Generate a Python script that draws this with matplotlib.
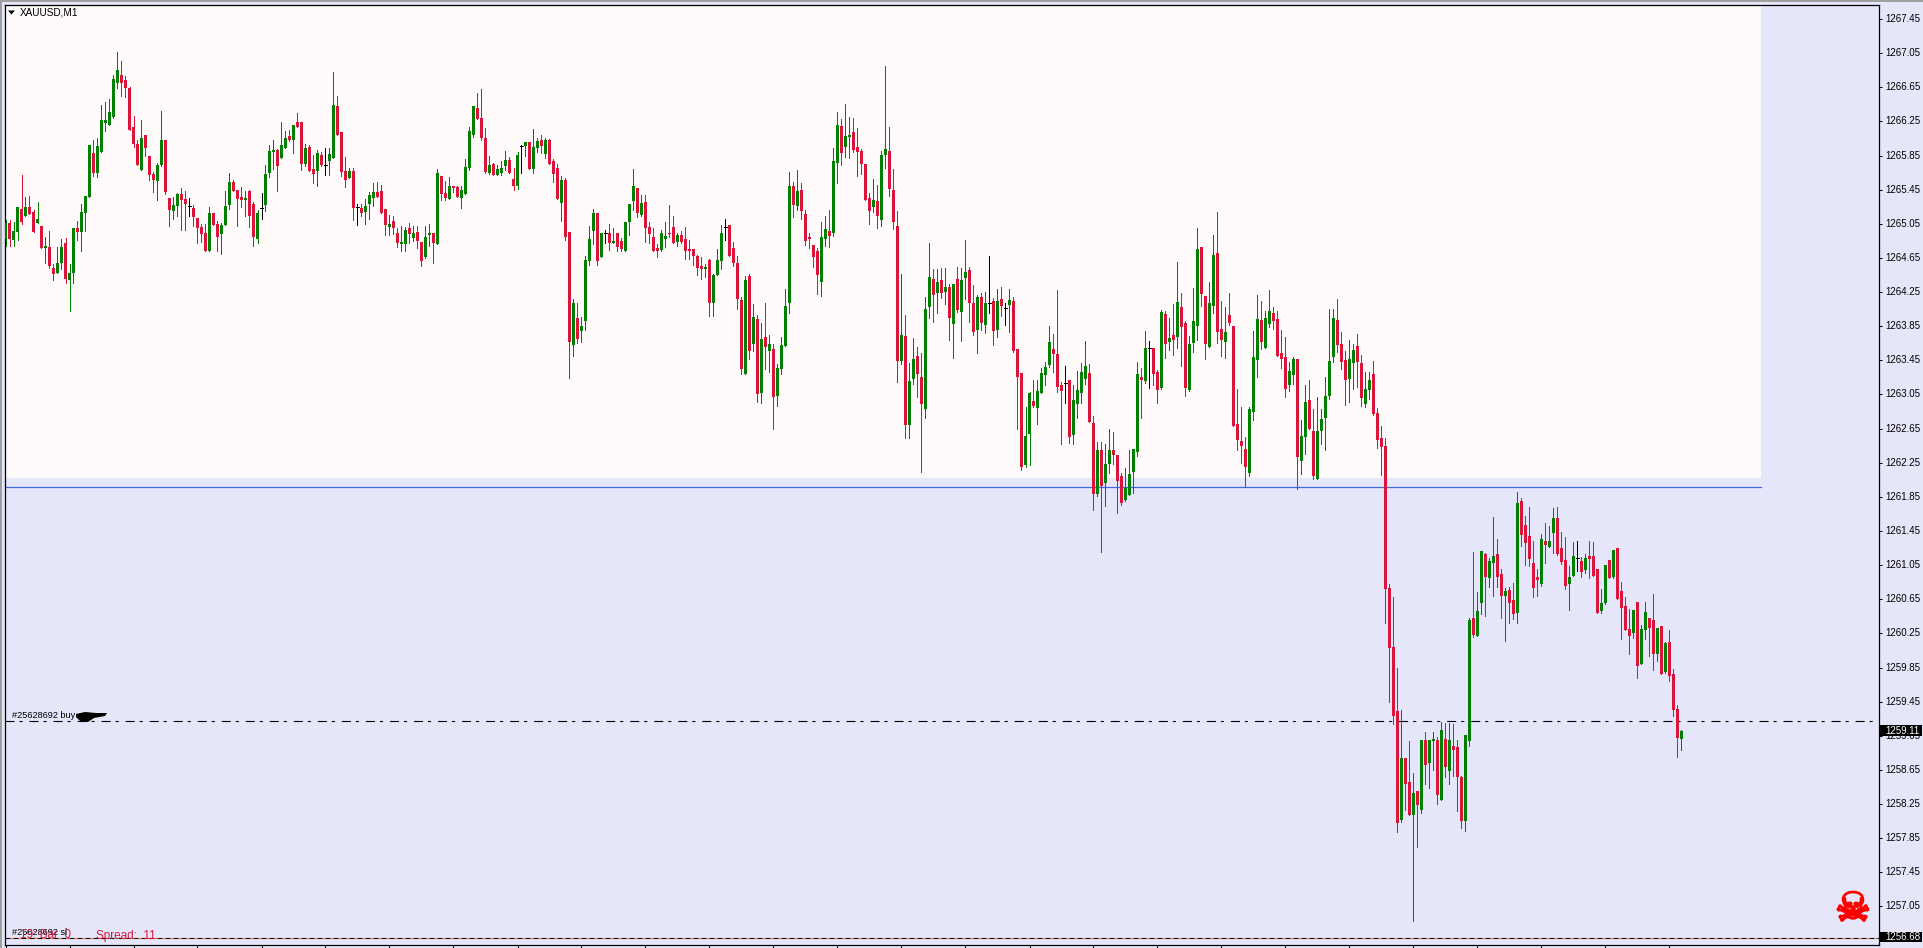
import numpy as np
import matplotlib
matplotlib.use("Agg")
import matplotlib.pyplot as plt
import matplotlib.patheffects as pe
from matplotlib.patches import Polygon, Rectangle
from matplotlib.transforms import ScaledTranslation

plt.rcParams['font.family'] = ['Liberation Sans', 'DejaVu Sans']
plt.rcParams['lines.scale_dashes'] = False

W, H = 1923, 948
PRICE_BASE = 1200.0

# XAUUSD M1 quotes, minus PRICE_BASE
highs = [
    65.09,65.09,65.07,65.25,65.62,65.36,65.38,65.21,65.31,65.02,
    64.90,64.97,64.58,64.78,64.87,64.88,64.58,65.00,65.08,65.28,
    65.38,65.97,66.03,66.06,66.44,66.48,66.51,66.79,67.06,66.96,
    66.78,66.65,66.31,66.03,66.27,66.09,65.84,65.66,65.76,66.37,
    66.03,65.35,65.36,65.41,65.47,65.43,65.35,65.27,65.12,65.05,
    65.05,65.25,65.18,65.08,65.06,65.43,65.65,65.56,65.45,65.48,
    65.43,65.45,65.31,65.21,65.41,65.74,65.97,66.03,65.93,66.24,
    66.14,66.15,66.21,66.35,66.24,65.99,65.97,65.86,65.92,65.89,
    65.94,65.94,66.83,66.55,66.13,65.83,65.70,65.70,65.28,65.28,
    65.34,65.42,65.53,65.54,65.51,65.22,65.15,65.14,65.00,65.02,
    65.01,65.06,65.02,65.02,64.84,65.02,65.05,64.94,65.69,65.61,
    65.55,65.60,65.49,65.49,65.49,65.81,66.18,66.43,66.58,66.63,
    66.17,65.84,65.76,65.74,65.79,65.90,65.83,65.70,65.89,65.97,
    66.01,66.01,66.16,66.06,66.09,66.06,66.04,65.81,65.75,65.61,
    65.59,64.95,64.17,64.12,63.96,64.67,65.02,65.22,65.18,64.94,
    64.98,65.05,65.00,64.94,64.88,65.07,65.28,65.69,65.47,65.39,
    65.39,65.07,65.00,64.81,64.98,65.07,65.27,65.14,64.94,64.97,
    65.01,64.86,64.76,64.68,64.66,64.58,64.64,64.46,64.76,65.04,
    65.11,65.04,64.84,64.67,64.19,64.44,64.46,64.11,63.98,63.89,
    64.12,63.75,63.64,63.41,63.72,64.29,65.66,65.54,65.68,65.53,
    65.21,64.94,64.80,64.77,65.07,65.14,65.21,65.94,66.36,66.28,
    66.45,66.30,66.29,66.17,65.93,65.75,65.41,65.58,65.51,65.90,
    66.90,66.18,65.69,65.20,64.46,63.98,63.42,63.71,63.61,63.53,
    64.19,64.83,64.52,64.52,64.53,64.53,64.34,64.34,64.54,64.53,
    64.86,64.54,64.33,64.22,64.24,64.25,64.67,64.18,64.29,64.31,
    64.12,64.29,64.19,63.58,63.30,62.90,63.08,63.22,63.22,63.36,
    63.43,63.85,63.76,64.27,63.20,63.38,63.22,63.16,63.33,63.42,
    63.68,63.41,62.80,62.49,62.49,62.47,62.65,62.61,62.34,62.13,
    62.19,62.40,62.41,63.43,63.36,63.79,63.68,63.59,63.34,64.04,
    64.03,63.95,64.11,64.60,64.24,63.91,63.74,64.30,65.00,64.78,
    64.20,64.37,64.92,65.19,64.15,64.08,64.24,63.85,63.11,62.90,
    62.55,62.90,63.79,64.22,64.15,64.03,64.27,64.08,64.03,63.81,
    63.72,63.43,63.49,63.47,62.75,63.16,63.22,62.88,63.02,62.88,
    63.25,64.05,64.05,64.17,63.78,63.56,63.69,63.64,63.76,63.51,
    63.31,63.31,63.44,62.89,62.68,62.54,60.83,60.68,59.84,59.35,
    58.79,58.99,58.61,58.40,59.00,59.09,59.00,59.09,59.04,59.21,
    59.20,59.20,59.19,59.00,58.58,59.06,60.43,61.20,60.74,61.22,
    61.19,61.13,61.61,61.36,61.00,60.78,60.79,60.84,61.91,61.84,
    61.63,61.73,61.33,61.00,61.42,61.54,61.51,61.72,61.73,61.44,
    61.38,61.04,61.32,61.33,61.15,61.18,61.33,61.32,61.00,60.77,
    61.05,61.11,61.23,61.25,60.85,60.68,60.54,60.52,60.62,60.35,
    60.62,60.43,60.71,60.31,60.34,60.15,60.29,59.83,59.41,59.12,
]
lows = [
    64.79,64.79,64.79,64.86,65.05,65.14,65.17,64.95,65.06,64.77,
    64.59,64.53,64.39,64.47,64.52,64.36,64.03,64.36,64.86,64.73,
    64.97,65.36,65.61,65.60,65.89,66.14,66.21,66.29,66.64,66.55,
    66.54,66.15,65.95,65.74,65.68,65.84,65.56,65.42,65.33,65.73,
    65.40,65.02,65.11,65.14,64.98,64.98,65.14,65.02,64.83,64.84,
    64.73,64.73,65.04,64.73,64.70,65.04,65.22,65.43,65.02,65.25,
    65.14,65.01,64.79,64.83,65.11,65.20,65.60,65.69,65.43,65.82,
    65.94,66.02,65.88,66.18,65.68,65.73,65.67,65.53,65.49,65.73,
    65.62,65.62,65.82,66.09,65.61,65.48,65.59,65.09,65.04,65.14,
    65.05,65.11,65.26,65.36,65.18,64.92,64.92,64.93,64.78,64.73,
    64.73,64.83,64.85,64.77,64.56,64.65,64.79,64.59,64.81,65.33,
    65.33,65.34,65.42,65.36,65.24,65.40,65.68,66.07,66.28,66.03,
    65.65,65.63,65.62,65.62,65.62,65.68,65.65,65.45,65.46,65.65,
    65.84,65.69,65.65,65.89,65.88,65.82,65.75,65.54,65.34,65.08,
    64.86,63.24,63.50,63.65,63.67,63.81,64.57,64.81,64.57,64.66,
    64.83,64.74,64.83,64.73,64.73,64.73,64.92,65.21,65.13,65.14,
    64.84,64.83,64.73,64.66,64.73,64.78,64.90,64.83,64.79,64.83,
    64.64,64.64,64.57,64.45,64.40,64.43,63.97,63.97,64.45,64.52,
    64.86,64.67,64.56,64.05,63.29,63.29,63.47,63.56,62.96,62.95,
    63.35,63.31,62.65,62.92,63.29,63.62,64.00,65.13,65.21,65.11,
    64.80,64.77,64.54,64.23,64.20,64.79,64.78,64.91,65.53,65.74,
    65.83,65.82,65.89,65.61,65.63,65.33,65.05,65.19,65.00,65.02,
    65.70,65.38,64.99,63.20,63.41,62.54,62.54,63.17,63.02,62.14,
    62.77,63.95,63.90,64.00,64.18,64.11,63.69,63.48,64.02,63.68,
    64.17,63.90,63.75,63.54,63.81,63.77,64.00,63.63,63.72,63.97,
    63.86,63.78,63.55,62.65,62.17,62.20,62.22,62.90,62.70,63.07,
    63.16,63.37,63.31,63.08,62.47,62.95,62.48,62.47,62.77,62.95,
    63.17,62.73,61.70,61.86,61.20,61.74,62.13,62.24,61.66,61.75,
    61.80,61.87,61.90,62.33,62.77,63.18,63.13,63.16,62.95,63.11,
    63.48,63.57,63.51,63.59,63.38,63.03,63.09,63.55,63.69,64.09,
    63.47,63.61,64.00,63.65,63.50,63.48,63.86,62.68,62.40,62.25,
    61.97,62.09,62.75,63.25,63.58,63.59,63.84,63.82,63.50,63.36,
    63.02,63.09,63.17,61.94,62.12,62.35,62.65,62.06,62.06,62.47,
    62.40,63.00,63.43,63.55,63.35,62.93,62.96,63.11,63.14,62.92,
    62.90,63.00,62.81,62.42,62.11,60.37,59.45,59.19,57.92,58.04,
    58.18,58.12,56.88,57.75,58.15,58.49,58.44,58.65,58.25,58.30,
    58.57,58.49,58.58,58.17,57.97,57.93,58.93,60.21,60.22,60.48,
    60.45,60.79,60.69,60.79,60.43,60.16,60.37,60.42,60.37,61.27,
    61.05,61.04,60.68,60.69,60.81,61.08,61.26,61.19,61.17,61.06,
    60.77,60.52,60.92,60.98,60.91,60.96,60.90,60.92,60.49,60.49,
    60.59,60.90,60.90,60.65,60.18,60.29,60.01,60.20,59.73,59.89,
    60.18,59.99,59.82,59.93,59.77,59.79,59.69,59.28,58.80,58.88,
]
opens = [
    64.87,65.06,64.86,64.95,65.22,65.14,65.25,65.19,65.06,65.02,
    64.77,64.78,64.53,64.47,64.59,64.83,64.39,64.47,65.00,64.95,
    65.18,65.36,65.88,65.65,65.89,66.23,66.21,66.30,66.70,66.79,
    66.74,66.64,66.18,65.99,65.68,66.09,65.84,65.63,65.55,65.74,
    66.03,65.35,65.20,65.26,65.40,65.34,65.26,65.24,65.12,65.01,
    64.94,64.73,65.18,65.05,64.93,65.04,65.27,65.54,65.45,65.36,
    65.33,65.43,65.28,64.87,65.23,65.27,65.65,65.89,65.92,65.82,
    65.94,66.08,66.03,66.24,66.24,65.75,65.95,65.69,65.67,65.86,
    65.74,65.79,65.82,66.43,66.13,65.67,65.59,65.67,65.25,65.24,
    65.19,65.28,65.35,65.42,65.43,65.22,65.01,65.08,64.94,64.81,
    64.81,65.00,64.88,64.95,64.84,64.66,64.92,64.94,64.81,65.61,
    65.41,65.34,65.49,65.48,65.35,65.40,65.70,66.09,66.41,66.29,
    66.06,65.65,65.75,65.62,65.65,65.73,65.80,65.58,65.49,65.96,
    65.96,66.01,65.69,65.94,66.03,65.87,66.03,65.79,65.70,65.29,
    65.56,64.95,63.63,63.95,63.79,63.91,64.61,64.97,65.18,64.66,
    64.94,64.94,64.83,64.94,64.85,64.73,65.07,65.32,65.47,65.15,
    65.31,65.01,64.90,64.77,64.74,64.87,64.94,65.01,64.84,64.92,
    64.87,64.76,64.76,64.67,64.56,64.52,64.63,64.12,64.45,64.61,
    65.01,65.04,64.77,64.59,64.16,63.29,64.44,63.64,63.94,63.07,
    63.72,63.56,63.58,63.03,63.35,63.62,64.12,65.49,65.26,65.45,
    65.17,64.90,64.80,64.73,64.37,64.87,64.97,64.94,65.76,66.20,
    65.95,66.07,66.13,65.95,65.90,65.75,65.35,65.25,65.32,65.09,
    65.86,65.90,65.45,65.02,63.44,63.74,62.69,63.23,63.50,63.26,
    62.88,64.07,64.40,64.24,64.39,64.25,64.31,63.88,64.40,64.02,
    64.42,64.51,64.12,63.81,64.19,63.86,64.12,64.15,63.81,64.17,
    64.06,64.10,64.15,63.58,63.30,62.22,62.59,62.97,62.89,63.07,
    63.28,63.40,63.58,63.52,63.16,63.18,63.22,62.58,62.94,63.07,
    63.23,63.30,62.72,61.88,62.40,62.01,62.24,62.40,62.34,62.09,
    61.81,61.87,62.14,62.38,63.25,63.21,63.59,63.59,63.31,63.13,
    63.99,63.67,63.75,63.72,64.08,63.89,63.10,63.65,63.85,64.78,
    64.20,63.61,64.09,64.71,63.82,63.67,63.98,63.85,62.70,62.50,
    62.41,62.13,62.84,63.45,63.92,63.59,63.88,64.00,63.93,63.54,
    63.49,63.16,63.28,63.47,62.27,62.55,62.99,62.62,62.06,62.62,
    62.77,63.03,63.49,63.92,63.64,63.45,63.23,63.42,63.62,63.42,
    62.94,63.10,63.29,62.83,62.54,62.45,60.78,60.09,59.34,58.06,
    58.79,58.51,58.12,58.40,58.18,59.00,58.73,58.99,59.00,58.30,
    59.01,58.64,58.93,58.92,58.57,58.05,58.99,60.43,60.22,60.61,
    61.18,60.90,61.08,61.18,60.95,60.69,60.76,60.64,60.49,61.80,
    61.52,61.39,61.08,60.91,60.83,61.33,61.26,61.43,61.60,61.25,
    61.11,60.83,60.92,61.13,61.10,60.99,61.16,61.16,61.00,60.51,
    60.61,61.11,60.91,61.25,60.75,60.57,60.30,60.25,60.62,59.89,
    60.29,60.43,60.41,60.01,60.34,59.80,60.15,59.77,59.36,59.01,
]
closes = [
    65.06,64.87,64.97,65.25,65.07,65.25,65.17,64.95,65.11,64.77,
    64.79,64.56,64.46,64.59,64.78,64.40,64.47,65.00,64.95,65.19,
    65.38,65.97,65.65,65.96,66.27,66.27,66.36,66.75,66.85,66.70,
    66.64,66.15,65.99,65.74,66.06,65.94,65.62,65.56,65.74,66.03,
    65.42,65.21,65.27,65.40,65.33,65.28,65.26,65.13,65.00,64.93,
    64.73,65.18,65.04,64.90,65.04,65.26,65.54,65.43,65.34,65.33,
    65.35,65.14,64.90,65.18,65.23,65.63,65.90,65.92,65.73,65.97,
    66.06,66.03,66.21,66.18,65.75,65.94,65.67,65.63,65.88,65.74,
    65.74,65.87,66.44,66.09,65.66,65.56,65.67,65.24,65.25,65.18,
    65.26,65.39,65.42,65.36,65.18,65.04,65.05,65.00,64.83,64.84,
    64.98,64.93,64.94,64.85,64.61,64.90,64.94,64.83,65.65,65.40,
    65.35,65.49,65.47,65.36,65.45,65.72,66.14,66.43,66.28,66.06,
    65.66,65.74,65.62,65.69,65.70,65.80,65.65,65.49,65.86,65.96,
    66.01,65.69,65.95,66.02,65.96,66.03,65.75,65.63,65.34,65.56,
    64.90,63.66,64.12,63.70,63.85,64.63,64.87,65.18,64.61,64.94,
    64.94,64.83,64.85,64.78,64.76,65.07,65.28,65.49,65.18,65.29,
    65.00,64.93,64.73,64.73,64.94,64.91,64.93,64.83,64.92,64.84,
    64.73,64.73,64.67,64.53,64.52,64.54,64.12,64.45,64.63,64.94,
    65.01,64.67,64.59,64.17,63.35,64.39,63.56,63.96,63.06,63.70,
    63.61,63.64,63.02,63.36,63.63,64.09,65.49,65.27,65.43,65.20,
    64.85,64.87,64.66,64.45,64.90,64.99,64.91,65.79,66.21,65.88,
    66.08,66.09,65.92,65.89,65.75,65.33,65.20,65.33,65.14,65.86,
    65.93,65.46,65.07,63.44,63.75,62.69,63.21,63.47,63.29,62.94,
    64.05,64.43,64.22,64.37,64.24,64.31,63.95,64.34,64.04,64.39,
    64.49,64.12,63.78,64.19,63.89,64.12,64.12,63.79,64.15,64.09,
    64.06,64.16,63.56,63.25,62.20,62.56,63.07,62.92,63.09,63.30,
    63.37,63.67,63.52,63.14,63.09,63.18,62.55,62.99,63.10,63.31,
    63.38,62.73,61.88,62.40,61.98,62.24,62.40,62.34,62.04,61.78,
    61.95,62.12,62.41,63.29,63.22,63.59,63.59,63.29,63.10,64.02,
    63.64,63.71,63.69,64.13,63.84,63.13,63.64,63.91,64.75,64.23,
    63.64,64.12,64.68,63.78,63.69,63.78,63.89,62.68,62.52,62.45,
    62.20,62.88,63.49,63.93,63.67,63.95,64.03,63.91,63.50,63.47,
    63.11,63.33,63.47,62.32,62.56,62.96,62.65,62.09,62.62,62.76,
    63.03,63.44,63.95,63.63,63.43,63.22,63.47,63.57,63.43,63.01,
    63.11,63.22,62.82,62.52,62.43,60.77,60.08,59.28,58.03,58.79,
    58.49,58.12,58.38,58.24,59.00,58.71,59.00,59.01,58.36,59.12,
    58.68,59.00,58.88,58.57,58.05,59.06,60.41,60.23,60.51,61.22,
    60.91,61.10,61.16,60.91,60.69,60.75,60.61,60.48,61.78,61.40,
    61.31,61.12,60.78,60.88,61.36,61.29,61.33,61.60,61.18,61.09,
    60.81,60.91,61.16,61.13,60.97,61.13,61.12,60.92,60.49,60.61,
    61.05,60.90,61.23,60.65,60.55,60.29,60.22,60.52,59.87,60.30,
    60.50,60.31,60.01,60.31,59.77,60.14,59.75,59.35,59.02,59.11,
]

ENTRY_PRICE = 1259.22
STOP_PRICE = 1256.68
SUPPORT_PRICE = 1261.97
ZONE_LOW = 1262.07
LAST_PRICE = 1259.11
ZONE_END_BAR = 438.9
TICK_TOP = 1267.45
TICK_STEP = 0.40
TICK_COUNT = 27
TIME_TICK_EVERY = 16

BULL = '#008000'
BEAR = '#DC143C'
LAVENDER = '#E6E6FA'
SNOW = '#FFFAFA'


def px_x(x):
    return x / W


def px_y(y):
    return 1 - y / H


o = PRICE_BASE + np.array(opens)
h = PRICE_BASE + np.array(highs)
l = PRICE_BASE + np.array(lows)
c = PRICE_BASE + np.array(closes)
idx = np.arange(len(c))

fig = plt.figure(figsize=(W / 100, H / 100), dpi=100, facecolor=LAVENDER)
left, right, top, bottom = 4.5, 1879.0, 4.5, 945.0
ax = fig.add_axes([left / W, 1 - bottom / H, (right - left) / W, (bottom - top) / H])
ax.set_facecolor(LAVENDER)

# 85.33 px per price unit, 4 px per bar
ppu = 85.33
ax.set_ylim(TICK_TOP - (bottom - 19) / ppu, TICK_TOP + (19 - top) / ppu)
ax.set_xlim((left - 5.5) / 4, (right - 5.5) / 4)

ax.add_patch(Rectangle((ax.get_xlim()[0], ZONE_LOW), ZONE_END_BAR - ax.get_xlim()[0],
                       ax.get_ylim()[1] - ZONE_LOW, facecolor=SNOW, edgecolor='none', zorder=0))
ax.plot([ax.get_xlim()[0], ZONE_END_BAR], [SUPPORT_PRICE] * 2, color='#4169E1', lw=0.9, zorder=1)
ax.axhline(ENTRY_PRICE, color='black', lw=0.8, linestyle=(0, (6.5, 3.6, 2.2, 5)), zorder=1)
ax.axhline(STOP_PRICE, color='black', lw=0.8, linestyle=(0, (3.6, 2.16)), zorder=1)
ax.axhline(STOP_PRICE, color='#FF4500', lw=0.8, linestyle=(1.5, (1.2, 4.56)), zorder=1)

# candles
colors = [BULL if b > a else BEAR if b < a else 'black' for a, b in zip(o, c)]
ax.vlines(idx, l, h, colors=colors, lw=0.72, antialiased=False, zorder=3)
body_low = np.minimum(o, c)
body_h = np.abs(c - o)
is_body = body_h > 0
ax.bar(idx[is_body], body_h[is_body], bottom=body_low[is_body], width=0.75,
       color=[col for col, f in zip(colors, is_body) if f], linewidth=0, antialiased=False, zorder=3)
is_doji = ~is_body
ax.hlines(c[is_doji], idx[is_doji] - 0.38, idx[is_doji] + 0.38, colors='black', lw=0.72,
          antialiased=False, zorder=3)

# axes
ax.yaxis.tick_right()
ticks = [TICK_TOP - TICK_STEP * k for k in range(TICK_COUNT)]
ax.set_yticks(ticks)
ax.set_yticklabels([f"{t:.2f}" for t in ticks])
ax.set_xticks(np.arange(0, len(c), TIME_TICK_EVERY))
ax.set_xticklabels([])
ax.tick_params(axis='y', length=2.2, width=0.72, pad=2.2, labelsize=7.0, colors='black')
ax.tick_params(axis='x', length=2.2, width=0.72)
nudge = ScaledTranslation(0, 0.7 / 72, fig.dpi_scale_trans)
for lab in ax.get_yticklabels():
    lab.set_transform(lab.get_transform() + nudge)
for s in ax.spines.values():
    s.set_linewidth(0.9)
    s.set_color('black')

# price boxes on the scale
for price, yc, hh in [(LAST_PRICE, 730.5, 5.2), (STOP_PRICE, 937.3, 4.8)]:
    fig.add_artist(Rectangle((px_x(1880), px_y(yc + hh)), 42 / W, 2 * hh / H, transform=fig.transFigure,
                             facecolor='black', edgecolor='none', zorder=5))
    fig.text(px_x(1885), px_y(yc), f"{price:.2f}", color='white', fontsize=7.0, va='center', ha='left', zorder=6)

# window edge
fig.add_artist(Rectangle((0, px_y(2)), 1, 2 / H, transform=fig.transFigure, facecolor='#A0A0A0', edgecolor='none'))
fig.add_artist(Rectangle((0, 0), 2 / W, 1, transform=fig.transFigure, facecolor='#A0A0A0', edgecolor='none'))

# chart header
fig.add_artist(Polygon([(px_x(8), px_y(10.5)), (px_x(15), px_y(10.5)), (px_x(11.5), px_y(14.5))],
                       transform=fig.transFigure, facecolor='black', edgecolor='none'))
fig.text(px_x(20), px_y(12.5), "XAUUSD,M1", fontsize=7.2, va='center', ha='left', color='black')

# order labels
fig.text(px_x(12), px_y(716), "#25628692 buy", fontsize=6.6, va='center', ha='left', color='black')
fig.add_artist(Polygon([(px_x(x), px_y(y)) for x, y in
                        [(76, 714), (85, 712), (96, 713), (107, 713), (105, 716), (94, 718),
                         (88, 722), (80, 721), (76, 717)]],
                       transform=fig.transFigure, facecolor='black', edgecolor='none'))
fig.text(px_x(12), px_y(932.5), "#25628692 sl", fontsize=6.6, va='center', ha='left', color='black')
fig.text(px_x(20), px_y(935.5), "19: Bar  0", fontsize=8.5, va='center', ha='left', color=BEAR, zorder=7)
fig.text(px_x(96), px_y(935.5), "Spread:  11", fontsize=8.5, va='center', ha='left', color=BEAR, zorder=7)

# skull marker
fig.text(px_x(1853), px_y(910), "\u2620", fontsize=29, family='DejaVu Sans', color='#FF0000',
         va='center', ha='center',
         path_effects=[pe.withStroke(linewidth=1.3, foreground='#FF0000')])

fig.savefig("out.png", dpi=100, facecolor=fig.get_facecolor())
